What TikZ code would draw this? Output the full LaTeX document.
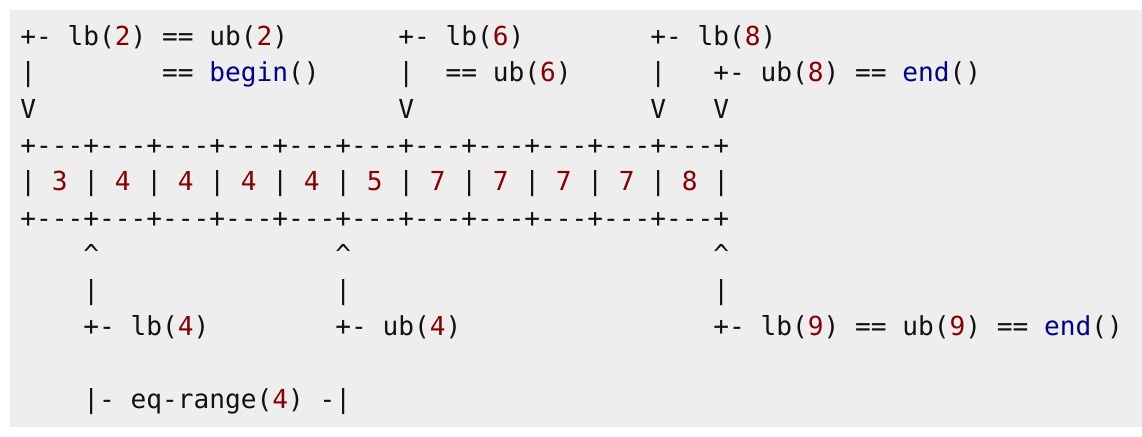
\documentclass[tikz,border=0pt]{standalone}
\usepackage{fontspec}
\setmonofont{DejaVu Sans Mono}
\definecolor{bgc}{HTML}{EEEEEE}
\definecolor{numc}{HTML}{880000}
\definecolor{kwc}{HTML}{000088}
\definecolor{txtc}{HTML}{111111}
\newcommand\nm[1]{\textcolor{numc}{#1}}
\newcommand\kw[1]{\textcolor{kwc}{#1}}
\newcommand\tok[4]{\node[tok] (#1) at ({20.4+15.75*#2},{45.5+36.3*#3}) {#4};}
\begin{document}
\begin{tikzpicture}[x=1pt,y=-1pt,
  tok/.style={anchor=base west,inner sep=0pt,outer sep=0pt,text=txtc,
    font=\ttfamily\fontsize{26.16}{36.3}\selectfont}]
\useasboundingbox (0,0) rectangle (1142,436);
\fill[bgc] (10,10) rectangle (1142,427);
% line 0
\tok{a0}{0}{0}{+- lb(\nm{2}) == ub(\nm{2})}
\tok{b0}{24}{0}{+- lb(\nm{6})}
\tok{c0}{40}{0}{+- lb(\nm{8})}
% line 1
\tok{a1}{0}{1}{|}
\tok{a1b}{9}{1}{== \kw{begin}()}
\tok{b1}{24}{1}{|}
\tok{b1b}{27}{1}{== ub(\nm{6})}
\tok{c1}{40}{1}{|}
\tok{d1}{44}{1}{+- ub(\nm{8}) == \kw{end}()}
% line 2
\tok{a2}{0}{2}{V}
\tok{b2}{24}{2}{V}
\tok{c2}{40}{2}{V}
\tok{d2}{44}{2}{V}
% array
\tok{top}{0}{3}{+---+---+---+---+---+---+---+---+---+---+---+}
\tok{row}{0}{4}{|~\nm{3}~|~\nm{4}~|~\nm{4}~|~\nm{4}~|~\nm{4}~|~\nm{5}~|~\nm{7}~|~\nm{7}~|~\nm{7}~|~\nm{7}~|~\nm{8}~|}
\tok{bot}{0}{5}{+---+---+---+---+---+---+---+---+---+---+---+}
% line 6
\tok{e6}{4}{6}{\^{}}
\tok{f6}{20}{6}{\^{}}
\tok{g6}{44}{6}{\^{}}
% line 7
\tok{e7}{4}{7}{|}
\tok{f7}{20}{7}{|}
\tok{g7}{44}{7}{|}
% line 8
\tok{e8}{4}{8}{+- lb(\nm{4})}
\tok{f8}{20}{8}{+- ub(\nm{4})}
\tok{g8}{44}{8}{+- lb(\nm{9}) == ub(\nm{9}) == \kw{end}()}
% line 10
\tok{e10}{4}{10}{|- eq-range(\nm{4}) -|}
\end{tikzpicture}
\end{document}
